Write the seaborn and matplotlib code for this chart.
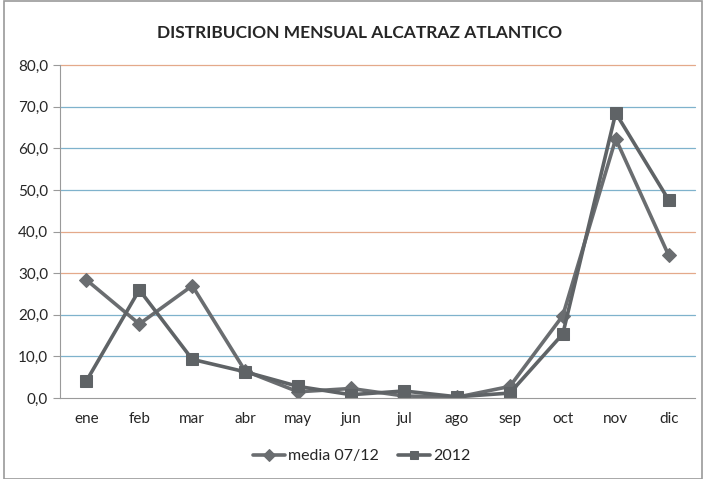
import pandas as pd
import seaborn as sns
import matplotlib.pyplot as plt
from matplotlib.patches import Rectangle

# Data
months = ["ene", "feb", "mar", "abr", "may", "jun", "jul", "ago", "sep", "oct", "nov", "dic"]
media = [28.4, 17.8, 27.0, 6.5, 1.5, 2.3, 0.5, 0.2, 2.8, 19.8, 62.3, 34.3]
y2012 = [4.1, 26.0, 9.3, 6.3, 2.8, 0.8, 1.7, 0.3, 1.2, 15.4, 68.5, 47.6]

df = pd.DataFrame({
    "mes": months * 2,
    "valor": media + y2012,
    "serie": ["media 07/12"] * 12 + ["2012"] * 12,
})

sns.set_style("white")
plt.rcParams["font.family"] = ["Lato", "DejaVu Sans"]

fig = plt.figure(figsize=(7.05, 4.79), dpi=100)
ax = fig.add_axes([0.085, 0.169, 0.901, 0.695])

gray = "#5f6366"
sns.lineplot(data=df, x="mes", y="valor", hue="serie", style="serie",
             palette={"media 07/12": "#6a6d70", "2012": gray},
             markers={"media 07/12": "D", "2012": "s"}, dashes=False,
             markersize=9, linewidth=2.6, sort=False, ax=ax)
for line in ax.lines:
    line.set_markeredgecolor(line.get_color())
ax.lines[0].set_markersize(7)

ax.set_ylim(0, 80)
ax.set_xlim(-0.5, 11.5)
yt = list(range(0, 90, 10))
ax.set_yticks(yt)
ax.set_yticklabels([f"{v:.1f}".replace(".", ",") for v in yt], fontsize=11)
grid_cols = {80: "#e4a98a", 40: "#e4a98a", 30: "#e4a98a"}
for v in yt[1:]:
    ax.axhline(v, color=grid_cols.get(v, "#7fb2cc"), lw=0.9, zorder=0, clip_on=False)

ax.set_xticks(range(12))
ax.set_xticklabels(months, fontsize=11)
ax.set_xticks([i - 0.5 for i in range(13)], minor=True)
ax.tick_params(axis="x", which="major", length=0, pad=10)
ax.tick_params(axis="x", which="minor", length=5, color="#9a9a9a", direction="out")
ax.tick_params(axis="y", length=5, color="#9a9a9a", direction="out", left=True)
ax.set_xlabel("")
ax.set_ylabel("")
for s in ["top", "right"]:
    ax.spines[s].set_visible(False)
for s in ["left", "bottom"]:
    ax.spines[s].set_color("#9a9a9a")

fig.text(0.51, 0.932, "DISTRIBUCION MENSUAL ALCATRAZ ATLANTICO",
         ha="center", va="center", fontsize=12.5, fontweight="bold")

handles, labels = ax.get_legend_handles_labels()
ax.legend(handles, labels, loc="center", bbox_to_anchor=(0.475, -0.175),
          ncol=2, frameon=False, fontsize=11.5, handlelength=2.0,
          markerscale=0.65, columnspacing=1.2, handletextpad=0.2)

fig.patches.append(Rectangle((0.006, 0.0), 0.99, 0.998, transform=fig.transFigure,
                             fill=False, edgecolor="#9a9a9a", lw=1.2))

fig.savefig("out.png", dpi=100)
